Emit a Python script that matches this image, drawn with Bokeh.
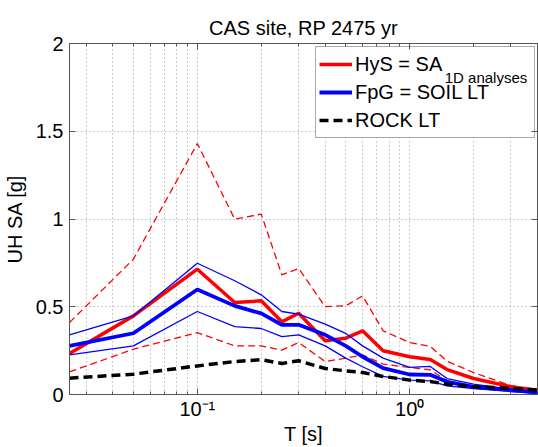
import math
from bokeh.plotting import figure
from bokeh.models import (FixedTicker, CustomJSTickFormatter, LogAxis, LinearAxis,
                          Legend, LegendItem, BoxAnnotation)
from bokeh.core.properties import value
from bokeh.embed import file_html
from bokeh.resources import INLINE

# ---- data ----
periods = [0.025, 0.05, 0.1, 0.15, 0.2, 0.25, 0.3, 0.4, 0.5, 0.6, 0.75, 1.0, 1.25, 1.5, 2.0, 3.0, 4.0]
hys_mean = [0.234, 0.448, 0.714, 0.524, 0.534, 0.414, 0.463, 0.306, 0.321, 0.363, 0.249, 0.215, 0.199, 0.142, 0.091, 0.044, 0.025]
hys_upper = [0.41, 0.771, 1.43, 0.999, 1.028, 0.682, 0.718, 0.501, 0.505, 0.562, 0.363, 0.296, 0.274, 0.19, 0.125, 0.05, 0.025]
hys_lower = [0.129, 0.258, 0.353, 0.277, 0.277, 0.253, 0.296, 0.188, 0.207, 0.226, 0.173, 0.154, 0.141, 0.078, 0.049, 0.03, 0.02]
fpg_mean = [0.277, 0.349, 0.598, 0.505, 0.462, 0.397, 0.397, 0.34, 0.277, 0.215, 0.15, 0.114, 0.112, 0.072, 0.044, 0.025, 0.011]
fpg_upper = [0.34, 0.448, 0.748, 0.648, 0.568, 0.473, 0.458, 0.401, 0.348, 0.277, 0.207, 0.154, 0.16, 0.091, 0.059, 0.03, 0.017]
fpg_lower = [0.226, 0.277, 0.473, 0.387, 0.376, 0.33, 0.34, 0.277, 0.207, 0.158, 0.103, 0.082, 0.078, 0.049, 0.034, 0.017, 0.008]
rock_lt = [0.093, 0.116, 0.163, 0.188, 0.198, 0.177, 0.192, 0.148, 0.135, 0.125, 0.103, 0.082, 0.074, 0.059, 0.044, 0.036, 0.025]

x_major = [0.1, 1.0]
x_minor = [0.03, 0.04, 0.05, 0.06, 0.07, 0.08, 0.09,
           0.2, 0.3, 0.4, 0.5, 0.6, 0.7, 0.8, 0.9, 2.0, 3.0, 4.0]
y_ticks = [0, 0.5, 1, 1.5, 2]
legend_labels = ["HyS = SA", "FpG = SOIL LT", "ROCK LT"]
legend_sub = "1D analyses"
title_text = "CAS site, RP 2475 yr"

FONT = "Liberation Sans"
FRAME = "#555555"
GRID = "#9a9a9a"

X0, X1 = 0.025, 4.0
Y0, Y1 = 0.0, 2.0
FRAME_W, FRAME_H = 469.0, 351.0   # frame size in px (538 - 68 - 1, 447 - 43 - 53)


def px_to_x(px):  # px from frame left -> data x (log axis)
    return 10 ** (math.log10(X0) + px / FRAME_W * (math.log10(X1) - math.log10(X0)))


def px_to_y(px):  # px from frame bottom -> data y
    return Y0 + px / FRAME_H * (Y1 - Y0)


p = figure(width=538, height=447, x_axis_type="log", x_range=(X0, X1), y_range=(Y0, Y1),
           output_backend="svg", toolbar_location=None,
           min_border_left=68, min_border_right=1, min_border_top=43, min_border_bottom=53)

p.title.text = title_text
p.title.align = "center"
p.title.text_font = FONT
p.title.text_font_size = "20px"
p.title.text_font_style = "normal"
p.title.text_color = "black"

p.outline_line_color = FRAME
p.background_fill_color = "white"
p.border_fill_color = "white"

xa = p.xaxis[0]
xa.ticker = FixedTicker(ticks=x_major, minor_ticks=x_minor)
xa.formatter = CustomJSTickFormatter(code="return tick < 0.5 ? '10\u207b\u00b9' : '10\u2070';")
ya = p.yaxis[0]
ya.ticker = FixedTicker(ticks=y_ticks, minor_ticks=[])
ya.formatter = CustomJSTickFormatter(code="return tick.toString();")

for ax in (xa, ya):
    ax.major_label_text_font = FONT
    ax.major_label_text_font_size = "20px"
    ax.major_label_text_color = "black"
    ax.axis_label_text_font = FONT
    ax.axis_label_text_font_size = "20px"
    ax.axis_label_text_font_style = "normal"
    ax.axis_label_text_color = "black"
    ax.axis_line_color = FRAME
    ax.major_tick_line_color = FRAME
    ax.minor_tick_line_color = FRAME
    ax.major_tick_in = 6
    ax.major_tick_out = 0
    ax.minor_tick_in = 3
    ax.minor_tick_out = 0

xa.axis_label = "T [s]"
xa.major_label_standoff = 3
xa.axis_label_standoff = 0
ya.axis_label = "UH SA [g]"
ya.major_label_standoff = 6
ya.axis_label_standoff = 7

top_ax = LogAxis(ticker=FixedTicker(ticks=x_major, minor_ticks=x_minor),
                 axis_line_color=FRAME, major_tick_line_color=FRAME, minor_tick_line_color=FRAME,
                 major_tick_in=6, major_tick_out=0, minor_tick_in=3, minor_tick_out=0)
right_ax = LinearAxis(ticker=FixedTicker(ticks=y_ticks, minor_ticks=[]),
                      axis_line_color=FRAME, major_tick_line_color=FRAME,
                      major_tick_in=6, major_tick_out=0, minor_tick_in=0, minor_tick_out=0)
for ax in (top_ax, right_ax):
    ax.major_label_text_alpha = 0
    ax.major_label_text_font_size = "1px"
    ax.major_label_standoff = 0
p.add_layout(top_ax, "above")
p.add_layout(right_ax, "right")

for g in (p.xgrid[0], p.ygrid[0]):
    g.grid_line_color = GRID
    g.grid_line_dash = "1 3"
    g.grid_line_width = 1
p.xgrid[0].minor_grid_line_color = GRID
p.xgrid[0].minor_grid_line_dash = "1 3"

# ---- legend geometry (px relative to the frame's bottom-left) ----
LG_X, LG_Y = 246, 256
LG_PAD, LG_GW, LG_STAND, LG_LW, LG_H = 3, 33, 3, 176, 28
LG_W = LG_PAD * 2 + LG_GW + LG_STAND + LG_LW
LG_HT = LG_PAD * 2 + LG_H * 3

# white background of the legend box, painted beneath the curves and the legend
p.add_layout(BoxAnnotation(left=px_to_x(LG_X), right=px_to_x(LG_X + LG_W),
                           bottom=px_to_y(LG_Y), top=px_to_y(LG_Y + LG_HT),
                           fill_color="white", fill_alpha=1.0, line_alpha=0,
                           level="underlay"))

# ---- lines ----
p.line(periods, hys_upper, line_color="#ff0000", line_width=1.3, line_dash="7 4")
p.line(periods, hys_lower, line_color="#ff0000", line_width=1.3, line_dash="7 4")
r_hys = p.line(periods, hys_mean, line_color="#ff0000", line_width=3.5)
p.line(periods, fpg_upper, line_color="#0000ff", line_width=1.3)
p.line(periods, fpg_lower, line_color="#0000ff", line_width=1.3)
r_fpg = p.line(periods, fpg_mean, line_color="#0000ff", line_width=3.8)
r_rock = p.line(periods, rock_lt, line_color="black", line_width=3.5, line_dash="9 5")

# subscript of the first legend entry
p.text(x=[px_to_x(LG_X + 130)], y=[px_to_y(LG_Y + LG_HT - 29)], text=[legend_sub],
       text_font=value(FONT), text_font_size=value("15px"), text_color="black",
       text_baseline="alphabetic", text_align="left")

legend = Legend(items=[LegendItem(label=legend_labels[0], renderers=[r_hys]),
                       LegendItem(label=legend_labels[1], renderers=[r_fpg]),
                       LegendItem(label=legend_labels[2], renderers=[r_rock])],
                location=(LG_X, LG_Y), margin=0, padding=LG_PAD, spacing=0,
                glyph_width=LG_GW, glyph_height=LG_H, label_height=LG_H, label_width=LG_LW,
                label_standoff=LG_STAND, label_text_font=FONT, label_text_font_size="20px",
                label_text_color="black", border_line_color=FRAME, border_line_width=1,
                background_fill_alpha=0.0)
p.add_layout(legend)

open("out.html", "w").write(file_html(p, INLINE))
